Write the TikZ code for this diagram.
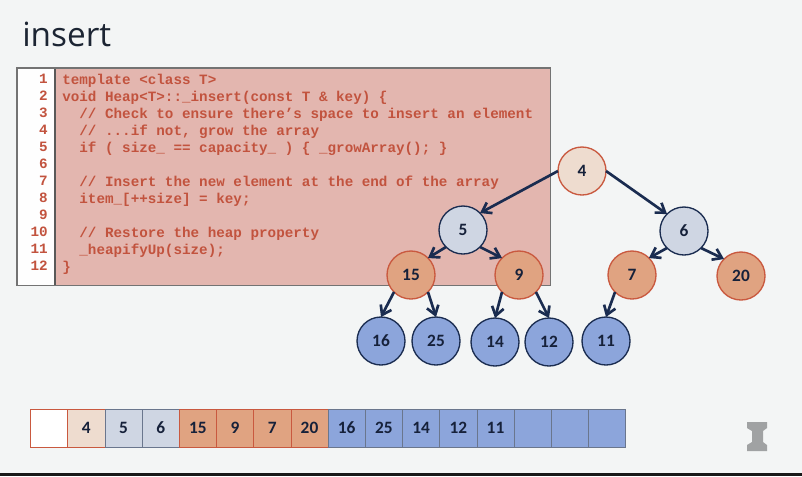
\documentclass[tikz,border=0pt]{standalone}
\usepackage{fontspec}
\setmainfont{Open Sans}
\setmonofont{Liberation Mono}
\newfontfamily\labelfont{Carlito}
\usetikzlibrary{arrows.meta}
\definecolor{HeapPaper}{HTML}{F3F5F5}
\definecolor{HeapInk}{HTML}{16213A}
\definecolor{HeapTitle}{HTML}{1C2533}
\definecolor{HeapNavy}{HTML}{1A2C50}
\definecolor{HeapRust}{HTML}{C9593F}
\definecolor{HeapCode}{HTML}{C2533E}
\definecolor{HeapCodeFill}{HTML}{E3B6AF}
\definecolor{HeapPeach}{HTML}{EEDCCF}
\definecolor{HeapSlate}{HTML}{CFD6E3}
\definecolor{HeapOrange}{HTML}{E0A381}
\definecolor{HeapBlue}{HTML}{8CA5DB}
\definecolor{HeapLogo}{HTML}{A0A2A3}
\tikzset{
  treenode/.style={
    circle,
    line width=1pt,
    inner sep=0pt,
    outer sep=0pt,
    minimum size=36pt,
    text=HeapInk,
    font=\labelfont\fontsize{13}{13}\selectfont\bfseries
  },
  rootnode/.style={treenode,draw=HeapRust,fill=HeapPeach},
  slatenode/.style={treenode,draw=HeapNavy,fill=HeapSlate},
  orangenode/.style={treenode,draw=HeapRust,fill=HeapOrange},
  bluenode/.style={treenode,draw=HeapNavy,fill=HeapBlue},
  cell/.style={
    rectangle,
    line width=0.6pt,
    inner sep=0pt,
    outer sep=0pt,
    minimum width=27.9pt,
    minimum height=28.5pt,
    text=HeapInk,
    font=\labelfont\fontsize{13}{13}\selectfont\bfseries
  },
  emptycell/.style={cell,draw=HeapRust,fill=white!96!HeapPaper},
  rootcell/.style={cell,draw=HeapRust,fill=HeapPeach},
  slatecell/.style={cell,draw=HeapNavy!65,fill=HeapSlate},
  orangecell/.style={cell,draw=HeapRust,fill=HeapOrange},
  bluecell/.style={cell,draw=HeapNavy!65,fill=HeapBlue},
  heaparrow/.style={
    -{Straight Barb[length=6.5pt,width=9pt]},
    draw=HeapNavy,
    line width=2pt
  },
  codetext/.style={
    anchor=north west,
    inner sep=0pt,
    align=left,
    text=HeapCode,
    font=\ttfamily\bfseries\fontsize{10.7}{12.75}\selectfont
  }
}
\begin{document}
\begin{tikzpicture}[x=0.75pt,y=-0.75pt]
  \useasboundingbox (0,0) rectangle (802,476);
  \fill[HeapPaper] (0,0) rectangle (802,476);
  \fill[black!90] (0,473) rectangle (802,476);

  \node[anchor=base west,inner sep=0pt,text=HeapTitle,font=\fontsize{25}{25}\selectfont] (title) at (22,46) {insert};

  % code listing
  \node[
    anchor=north west,
    fill=HeapCodeFill,
    inner sep=0pt,
    minimum width=400pt,
    minimum height=162.75pt
  ] (codebox) at (17,68) {};
  \fill[white!90!HeapPaper] (codebox.north west) rectangle (55,285);
  \draw[black!65,line width=1.2pt] (55,68) -- (55,285);
  \draw[black!55,line width=0.8pt] (codebox.north west) rectangle (codebox.south east);
  \node[codetext,anchor=north east,align=right] (linenumbers) at (48,74) {1\\2\\3\\4\\5\\6\\7\\8\\9\\10\\11\\12};
  \node[codetext] (code) at (62,74) {%
    template <class T>\\
    void Heap<T>::\_insert(const T \& key) \{\\
    \ \ // Check to ensure there’s space to insert an element\\
    \ \ // ...if not, grow the array\\
    \ \ if ( size\_ == capacity\_ ) \{ \_growArray(); \}\\
    \mbox{}\\
    \ \ // Insert the new element at the end of the array\\
    \ \ item\_[++size] = key;\\
    \mbox{}\\
    \ \ // Restore the heap property\\
    \ \ \_heapifyUp(size);\\
    \}};

  % heap
  \node[rootnode] (n4) at (582,171) {4};
  \node[slatenode] (n5) at (463,230) {5};
  \node[slatenode] (n6) at (684,231) {6};
  \node[orangenode] (n15) at (411,275) {15};
  \node[orangenode] (n9) at (519,275) {9};
  \node[orangenode] (n7) at (632,275) {7};
  \node[orangenode] (n20) at (741,276) {20};
  \node[bluenode] (n16) at (381,341) {16};
  \node[bluenode] (n25) at (436,341) {25};
  \node[bluenode] (n14) at (495,342) {14};
  \node[bluenode] (n12) at (549,342) {12};
  \node[bluenode] (n11) at (606,341) {11};

  \draw[heaparrow] (n4.west) -- (n5.north east);
  \draw[heaparrow] (n4.east) -- (n6.north west);
  \draw[heaparrow] (n5.south west) -- (n15.north east);
  \draw[heaparrow] (n5.south east) -- (n9.north west);
  \draw[heaparrow] (n6.south west) -- (n7.north east);
  \draw[heaparrow] (n6.south east) -- (n20.north west);
  \draw[heaparrow] (n15.south west) -- (n16.north);
  \draw[heaparrow] (n15.south east) -- (n25.north);
  \draw[heaparrow] (n9.south west) -- (n14.north);
  \draw[heaparrow] (n9.south east) -- (n12.north);
  \draw[heaparrow] (n7.south west) -- (n11.north);

  % array
  \foreach \val/\kind [count=\i from 0] in {/emptycell,4/rootcell,5/slatecell,6/slatecell,15/orangecell,9/orangecell,7/orangecell,20/orangecell,16/bluecell,25/bluecell,14/bluecell,12/bluecell,11/bluecell,/bluecell,/bluecell,/bluecell}
    \node[\kind] (a\i) at ({49.1+37.2*\i},428) {\val};

  % logo
  \fill[HeapLogo] (747,422) -- (767,422) -- (767,428) -- (763,431) -- (763,442) -- (767,445) -- (767,451) -- (747,451) -- (747,445) -- (752,442) -- (752,431) -- (747,428) -- cycle;
\end{tikzpicture}
\end{document}
